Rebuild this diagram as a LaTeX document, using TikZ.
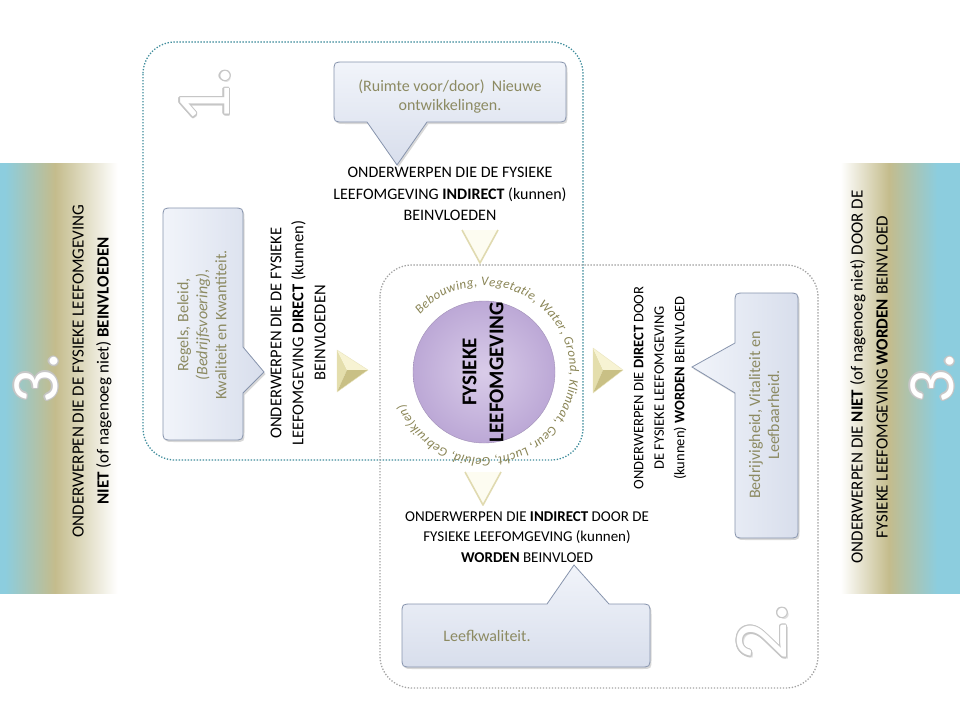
\documentclass[tikz,border=0pt]{standalone}
\usepackage{fontspec}
\setmainfont{Carlito}
\usetikzlibrary{calc,shadows,decorations.text}
\definecolor{barblue}{HTML}{8CCDDE}
\definecolor{barkhaki}{HTML}{C4BC8C}
\definecolor{rectteal}{HTML}{3F8D9C}
\definecolor{rectgray}{HTML}{A3A3A3}
\definecolor{callborder}{HTML}{8794AD}
\definecolor{calltop}{HTML}{F1F4FA}
\definecolor{callbot}{HTML}{D8DEEC}
\definecolor{calltext}{HTML}{8C8A62}
\definecolor{circin}{HTML}{D9CCE9}
\definecolor{circout}{HTML}{BCA8D6}
\definecolor{circtext}{HTML}{8A8556}
\definecolor{numline}{HTML}{C6C6C6}
\definecolor{arrlight}{HTML}{F7F3D3}
\definecolor{arrmid}{HTML}{E4DEAC}
\definecolor{arrdark}{HTML}{C9C085}
\definecolor{vfill}{HTML}{FDFCF1}
\definecolor{vline}{HTML}{E0DAB0}
\pgfdeclarehorizontalshading{leftbarshade}{100bp}{color(0bp)=(barblue); color(27bp)=(barblue); color(47bp)=(barkhaki); color(72bp)=(white); color(100bp)=(white)}
\pgfdeclarehorizontalshading{rightbarshade}{100bp}{color(0bp)=(white); color(28bp)=(white); color(47bp)=(barkhaki); color(66bp)=(barblue); color(100bp)=(barblue)}
\newcommand{\mybignum}[4]{%
  \node[numbase, font=\fontsize{#4}{#4}\selectfont, text=black!25, opacity=0.5] at ($(#2)+(1.8pt,-1.8pt)$) {#3};
  \foreach \ang in {0,30,...,330}{\node[numbase, font=\fontsize{#4}{#4}\selectfont, text=numline] at ($(#2)+(\ang:1.2pt)$) {#3};}
  \node[numbase, font=\fontsize{#4}{#4}\selectfont, text=white] (#1) at (#2) {#3};
}
\begin{document}
\begin{tikzpicture}[x=1pt, y=-1pt,
  numbase/.style={rotate=90, inner sep=0pt},
  bartext/.style={rotate=90, align=center, inner sep=0pt, font=\fontsize{17}{25}\selectfont},
  maintext/.style={align=center, inner sep=0pt, font=\fontsize{16}{21.5}\selectfont},
  vtext/.style={rotate=90, align=center, inner sep=0pt, font=\fontsize{16.5}{22}\selectfont},
  calltxt/.style={align=center, inner sep=0pt, text=calltext, font=\fontsize{16}{19}\selectfont},
  rectone/.style={draw=rectteal, line width=1.3pt, dash pattern=on 1.3pt off 1.7pt, rounded corners=32pt},
  recttwo/.style={draw=rectgray, line width=1.3pt, dash pattern=on 1.3pt off 1.7pt, rounded corners=32pt},
  callh/.style={draw=callborder, line width=0.8pt, top color=calltop, bottom color=callbot, drop shadow={shadow xshift=1.5pt, shadow yshift=-2pt, opacity=0.3}},
  callv/.style={draw=callborder, line width=0.8pt, left color=calltop, right color=callbot, drop shadow={shadow xshift=1.5pt, shadow yshift=-2pt, opacity=0.3}},
  vshape/.style={draw=vline, line width=1.6pt, line join=round}
]
\useasboundingbox (0,0) rectangle (960,720);
\fill[white] (0,0) rectangle (960,720);

% side bars
\path[shading=leftbarshade] (0,163) rectangle (125,593);
\path[shading=rightbarshade] (833,163) rectangle (960,593);
\node[bartext] (lbtext) at (92,371) {ONDERWERPEN DIE DE FYSIEKE LEEFOMGEVING\\ \textbf{NIET} (of nagenoeg niet) \textbf{BEINVLOEDEN}};
\node[bartext] (rbtext) at (869,377) {ONDERWERPEN DIE \textbf{NIET} (of nagenoeg niet) DOOR DE\\ FYSIEKE LEEFOMGEVING \textbf{WORDEN} BEINVLOED};

% dotted frames
\draw[rectone] (143,42) rectangle (583,460);
\draw[recttwo] (380,265) rectangle (818,688);

% central circle
\node[circle, minimum size=142pt, inner sep=0pt, shading=radial, inner color=circin, outer color=circout, draw=circout!85!black, line width=0.4pt] (circ) at (484,372) {};
\node[rotate=90, align=center, inner sep=0pt, font=\bfseries\fontsize{21}{27}\selectfont] (circtxt) at (483,372) {FYSIEKE\\LEEFOMGEVING};
\path[decorate, decoration={text along path, text align=fit to path, text={|\itshape\fontsize{13}{13}\selectfont\color{circtext}|Bebouwing, Vegetatie, Water, Grond, Klimaat, Geur, Lucht, Geluid, Gebruik(en)}}]
  (circ.center) ++(-138:86) arc[start angle=-138, end angle=158, radius=86];

% main texts
\node[maintext] (toptext) at (450,194) {ONDERWERPEN DIE DE FYSIEKE\\ LEEFOMGEVING \textbf{INDIRECT} (kunnen)\\ BEINVLOEDEN};
\node[vtext] (lefttext) at (298,333) {ONDERWERPEN DIE DE FYSIEKE\\ LEEFOMGEVING \textbf{DIRECT} (kunnen)\\ BEINVLOEDEN};
\node[vtext, font=\fontsize{14.5}{20.5}\selectfont] (righttext) at (660,388) {ONDERWERPEN DIE \textbf{DIRECT} DOOR\\ DE FYSIEKE LEEFOMGEVING\\ (kunnen) \textbf{WORDEN} BEINVLOED};
\node[maintext, font=\fontsize{15}{20.5}\selectfont] (bottext) at (527,537) {ONDERWERPEN DIE \textbf{INDIRECT} DOOR DE\\ FYSIEKE LEEFOMGEVING (kunnen)\\ \textbf{WORDEN} BEINVLOED};

% callouts
\path[callh] (344,62) -- (556,62) .. controls (566,62) .. (566,72) -- (566,112) .. controls (566,122) .. (556,122) -- (427,122) -- (397,165) -- (367,122) -- (344,122) .. controls (334,122) .. (334,112) -- (334,72) .. controls (334,62) .. (344,62) -- cycle;
\node[calltxt] (ctop) at (450,97) {(Ruimte voor/door)\ \ Nieuwe\\ ontwikkelingen.};

\path[callv] (173,208) -- (233,208) .. controls (243,208) .. (243,218) -- (243,347) -- (264,372) -- (243,393) -- (243,430) .. controls (243,440) .. (233,440) -- (173,440) .. controls (163,440) .. (163,430) -- (163,218) .. controls (163,208) .. (173,208) -- cycle;
\node[calltxt, rotate=90] (cleft) at (202,325) {Regels, Beleid,\\ \textit{(Bedrijfsvoering)},\\ Kwaliteit en Kwantiteit.};

\path[callv] (745,293) -- (788,293) .. controls (798,293) .. (798,303) -- (798,528) .. controls (798,538) .. (788,538) -- (745,538) .. controls (735,538) .. (735,528) -- (735,393) -- (692,367) -- (735,343) -- (735,303) .. controls (735,293) .. (745,293) -- cycle;
\node[calltxt, rotate=90] (cright) at (764,415) {Bedrijvigheid, Vitaliteit en\\ Leefbaarheid.};

\path[callh] (412,604) -- (547,604) -- (574,565) -- (609,604) -- (640,604) .. controls (650,604) .. (650,614) -- (650,657) .. controls (650,667) .. (640,667) -- (412,667) .. controls (402,667) .. (402,657) -- (402,614) .. controls (402,604) .. (412,604) -- cycle;
\node[calltxt] (cbot) at (487,636) {Leefkwaliteit.};

% arrowheads (left / right, bevelled)
\coordinate (la1) at (337,350); \coordinate (la2) at (337,392); \coordinate (lat) at (368,370);
\coordinate (lag) at (347,370);
\fill[arrmid] (la1) -- (la2) -- (lag) -- cycle;
\fill[arrlight] (la1) -- (lat) -- (lag) -- cycle;
\fill[arrdark] (la2) -- (lat) -- (lag) -- cycle;
\draw[arrmid!80!white, line width=0.4pt, line join=round] (la1) -- (lat) -- (la2) -- cycle;
\coordinate (ra1) at (593,348); \coordinate (ra2) at (593,393); \coordinate (rat) at (623,370);
\coordinate (rag) at (603,370);
\fill[arrmid] (ra1) -- (ra2) -- (rag) -- cycle;
\fill[arrlight] (ra1) -- (rat) -- (rag) -- cycle;
\fill[arrdark] (ra2) -- (rat) -- (rag) -- cycle;
\draw[arrmid!80!white, line width=0.4pt, line join=round] (ra1) -- (rat) -- (ra2) -- cycle;

% arrowheads (top / bottom, pale V)
\coordinate (ta1) at (462,230); \coordinate (ta2) at (498,230); \coordinate (tat) at (480,263);
\path[fill=vfill] (ta1) -- (ta2) -- (tat) -- cycle;
\draw[vshape] (ta1) -- (tat) -- (ta2);
\coordinate (ba1) at (465,472); \coordinate (ba2) at (501,472); \coordinate (bat) at (483,505);
\path[fill=vfill] (ba1) -- (ba2) -- (bat) -- cycle;
\draw[vshape] (ba1) -- (bat) -- (ba2);

% big numbers
\mybignum{numone}{205,95}{1.}{76}
\mybignum{numtwo}{762,632}{2.}{76}
\mybignum{numthreel}{36,378}{3.}{66}
\mybignum{numthreer}{932,378}{3.}{66}
\end{tikzpicture}
\end{document}
